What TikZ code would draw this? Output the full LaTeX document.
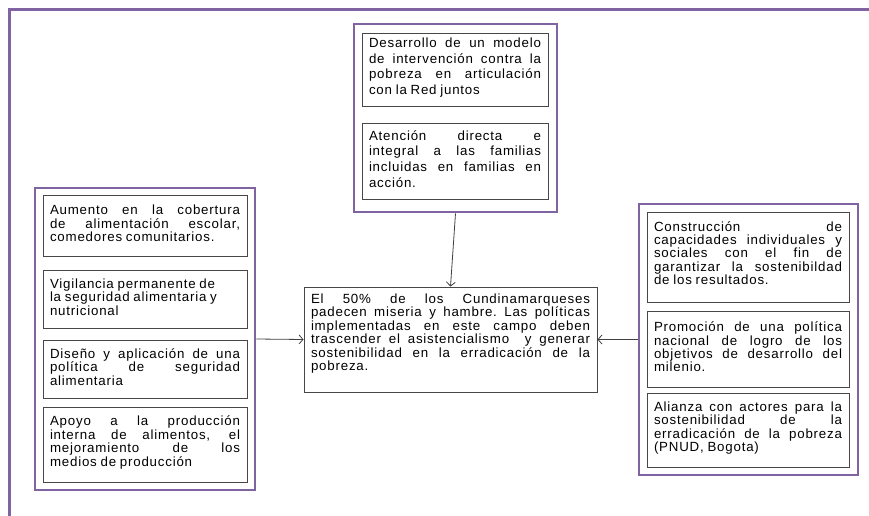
\documentclass[tikz,border=0pt]{standalone}
\usepackage{fontspec}
\setmainfont{Liberation Sans}
\newfontfamily\arl{Liberation Sans}[LetterSpace=6]
\usetikzlibrary{arrows.meta,shadows}
\definecolor{grpc}{HTML}{8064A2}
\newcommand\J[1]{\hbox to\hsize{#1}}
\newcommand\Lf[1]{\hbox to\hsize{#1\hfil}}
\newcommand\Lines[3][4pt]{\noindent\vbox{\hsize=#2\spaceskip=.28em plus 4em minus .05em\xspaceskip=\spaceskip #3\kern#1}}
\tikzset{
  grp/.style={draw=grpc, line width=2.8pt, fill=white, inner sep=0pt},
  ibox/.style={draw=black!72, line width=0.9pt, fill=white, inner xsep=7pt, inner ysep=2pt,
    general shadow={fill=black!18, shadow xshift=1.2pt, shadow yshift=-1.2pt},
    font=\arl\fontsize{13.3}{13.4}\selectfont},
  tbox/.style={ibox, font=\arl\fontsize{13.3}{15.8}\selectfont},
  conn/.style={draw=black!75, line width=0.8pt, -{Straight Barb[length=4pt,width=9pt]}},
}
\begin{document}
\begin{tikzpicture}[x=1pt,y=-1pt]
\useasboundingbox (0,0) rectangle (869,516);
\fill[white] (0,0) rectangle (869,516);
% outer frame
\coordinate (fa) at (9,516);
\coordinate (fb) at (9,10);
\coordinate (fc) at (869,10);
\draw[grpc, line width=3pt] (fa) -- (fb) -- (fc);

% top group
\node[grp, minimum width=203pt, minimum height=188pt] (topgrp) at (455.5,118) {};
\node[tbox, minimum width=186pt, minimum height=73pt, text width=172pt] (t1) at (455,69.5)
  {\Lines{172pt}{\J{Desarrollo de un modelo}\J{de intervención contra la}\J{pobreza en articulación}\Lf{con la Red juntos}}};
\node[tbox, minimum width=186pt, minimum height=76pt, text width=172pt] (t2) at (455,161)
  {\Lines{172pt}{\J{Atención directa e}\J{integral a las familias}\J{incluidas en familias en}\Lf{acción.}}};

% left group
\node[grp, minimum width=220pt, minimum height=302pt] (leftgrp) at (145,339) {};
\node[ibox, minimum width=204pt, minimum height=61pt, text width=190pt] (l1) at (145,225.5)
  {\Lines{190pt}{\J{Aumento en la cobertura}\J{de alimentación escolar,}\Lf{comedores comunitarios.}}};
\node[ibox, minimum width=204pt, minimum height=58pt, text width=190pt] (l2) at (145,299)
  {\Lines{190pt}{\Lf{Vigilancia permanente de}\Lf{la seguridad alimentaria y}\Lf{nutricional}}};
\node[ibox, minimum width=204pt, minimum height=58pt, text width=190pt] (l3) at (145,369)
  {\Lines{190pt}{\J{Diseño y aplicación de una}\J{política de seguridad}\Lf{alimentaria}}};
\node[ibox, minimum width=204pt, minimum height=75pt, text width=190pt] (l4) at (145,444.5)
  {\Lines{190pt}{\J{Apoyo a la producción}\J{interna de alimentos, el}\J{mejoramiento de los}\Lf{medios de producción}}};

% right group
\node[grp, minimum width=219pt, minimum height=271pt] (rightgrp) at (748.5,339.5) {};
\node[ibox, minimum width=202pt, minimum height=90pt, text width=188pt] (r1) at (748,257)
  {\Lines[8pt]{188pt}{\J{Construcción de}\J{capacidades individuales y}\J{sociales con el fin de}\J{garantizar la sostenibildad}\Lf{de los resultados.}}};
\node[ibox, minimum width=202pt, minimum height=76pt, text width=188pt] (r2) at (748,349)
  {\Lines{188pt}{\J{Promoción de una política}\J{nacional de logro de los}\J{objetivos de desarrollo del}\Lf{milenio.}}};
\node[ibox, minimum width=202pt, minimum height=74pt, text width=188pt] (r3) at (748,430)
  {\Lines{188pt}{\J{Alianza con actores para la}\J{sostenibilidad de la}\J{erradicación de la pobreza}\Lf{(PNUD, Bogota)}}};

% center
\node[ibox, general shadow={}, minimum width=293pt, minimum height=105pt, text width=279pt] (center) at (450.5,339.5)
  {\Lines[12pt]{279pt}{\J{El 50\% de los Cundinamarqueses}\J{padecen miseria y hambre. Las políticas}\J{implementadas en este campo deben}\J{trascender el asistencialismo \ y generar}\J{sostenibilidad en la erradicación de la}\Lf{pobreza.}}};

% connectors
\draw[conn] (topgrp.south) -- (center.north);
\draw[conn] (leftgrp.east) -- (center.west);
\draw[conn] (rightgrp.west) -- (center.east);
\end{tikzpicture}
\end{document}
